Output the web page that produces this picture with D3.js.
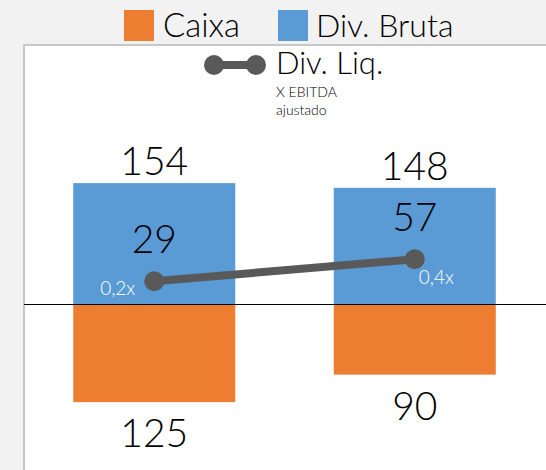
<!DOCTYPE html>
<html>
<head>
<meta charset="utf-8">
<script src="https://cdn.jsdelivr.net/npm/d3@7"></script>
<style>
  body { margin: 0; background: #f2f2f2; }
  svg { display: block; font-family: Lato, "Noto Sans", sans-serif; font-weight: 300; }
</style>
</head>
<body>
<div id="viz"></div>
<script>
// data
var periodos = ["P1", "P2"];
var caixa = [125, 90];
var divBruta = [154, 148];
var divLiq = [29, 57];
var multiplo = [0.2, 0.4];

var width = 546, height = 470;
var plot = {left: 24, top: 45, right: 545};

var colors = {caixa: "#ED7D31", bruta: "#5B9BD5", liq: "#595959"};

var svg = d3.select("#viz")
  .append("svg")
  .attr("width", width)
  .attr("height", height);

// plot area
svg.append("rect")
  .attr("x", plot.left)
  .attr("y", plot.top)
  .attr("width", width - plot.left + 5)
  .attr("height", height - plot.top + 5)
  .attr("fill", "white")
  .attr("stroke", "#c8c8c8")
  .attr("stroke-width", 2);

var x = d3.scaleBand()
  .domain(periodos)
  .range([plot.left, plot.right])
  .paddingInner(0.378)
  .paddingOuter(0.189);

var y = d3.scaleLinear()
  .domain([-200, 200])
  .range([461, 147]);

var rows = periodos.map(function(p, i) {
  return {p: p, caixa: caixa[i], bruta: divBruta[i], liq: divLiq[i], mult: multiplo[i], i: i};
});

// bars
svg.append("g")
  .selectAll("rect")
  .data(rows)
  .join("rect")
  .attr("x", d => x(d.p))
  .attr("width", x.bandwidth())
  .attr("y", d => y(d.bruta))
  .attr("height", d => y(0) - y(d.bruta))
  .attr("fill", colors.bruta);

svg.append("g")
  .selectAll("rect")
  .data(rows)
  .join("rect")
  .attr("x", d => x(d.p))
  .attr("width", x.bandwidth())
  .attr("y", y(0))
  .attr("height", d => y(-d.caixa) - y(0))
  .attr("fill", colors.caixa);

// zero line
svg.append("line")
  .attr("x1", plot.left)
  .attr("x2", width)
  .attr("y1", y(0) + 0.5)
  .attr("y2", y(0) + 0.5)
  .attr("stroke", "black")
  .attr("stroke-width", 1.2);

// bar labels
svg.append("g")
  .selectAll("text")
  .data(rows)
  .join("text")
  .attr("text-anchor", "middle")
  .attr("font-size", 39)
  .attr("x", d => x(d.p) + x.bandwidth() / 2)
  .attr("y", d => y(d.bruta) - 8)
  .text(d => d.bruta);

svg.append("g")
  .selectAll("text")
  .data(rows)
  .join("text")
  .attr("text-anchor", "middle")
  .attr("font-size", 39)
  .attr("x", d => x(d.p) + x.bandwidth() / 2)
  .attr("y", d => y(-d.caixa) + 45)
  .text(d => d.caixa);

// div liq line
var cx = d => x(d.p) + x.bandwidth() / 2;
var line = d3.line()
  .x(cx)
  .y(d => y(d.liq));

svg.append("path")
  .datum(rows)
  .attr("d", line)
  .attr("fill", "none")
  .attr("stroke", colors.liq)
  .attr("stroke-width", 8);

svg.append("g")
  .selectAll("circle")
  .data(rows)
  .join("circle")
  .attr("cx", cx)
  .attr("cy", d => y(d.liq))
  .attr("r", 10)
  .attr("fill", colors.liq);

svg.append("g")
  .selectAll("text")
  .data(rows)
  .join("text")
  .attr("text-anchor", "middle")
  .attr("font-size", 39)
  .attr("x", cx)
  .attr("y", d => y(d.liq) - 28)
  .text(d => d.liq);

// multiples (white)
svg.append("g")
  .selectAll("text")
  .data(rows)
  .join("text")
  .attr("fill", "white")
  .attr("font-size", 19)
  .attr("text-anchor", d => d.i == 0 ? "end" : "start")
  .attr("x", d => d.i == 0 ? cx(d) - 19 : cx(d) + 4)
  .attr("y", d => d.i == 0 ? y(d.liq) + 14 : y(d.liq) + 25)
  .text(d => d3.format(".1f")(d.mult).replace(".", ",") + "x");

// legend
var leg = svg.append("g");
leg.append("rect").attr("x", 124).attr("y", 10).attr("width", 30).attr("height", 31).attr("fill", colors.caixa);
leg.append("text").attr("x", 163).attr("y", 37).attr("font-size", 33).text("Caixa");
leg.append("rect").attr("x", 278).attr("y", 10).attr("width", 30).attr("height", 31).attr("fill", colors.bruta);
leg.append("text").attr("x", 316).attr("y", 37).attr("font-size", 32).text("Div. Bruta");

leg.append("line").attr("x1", 214).attr("x2", 256).attr("y1", 65).attr("y2", 65)
  .attr("stroke", colors.liq).attr("stroke-width", 8);
leg.selectAll("circle.k")
  .data([214, 256])
  .join("circle")
  .attr("cx", d => d)
  .attr("cy", 65)
  .attr("r", 10)
  .attr("fill", colors.liq);
leg.append("text").attr("x", 276).attr("y", 74).attr("font-size", 31).text("Div. Liq.");
leg.append("text").attr("x", 276).attr("y", 97).attr("font-size", 14).text("X EBITDA");
leg.append("text").attr("x", 276).attr("y", 115).attr("font-size", 14).text("ajustado");
</script>
</body>
</html>
